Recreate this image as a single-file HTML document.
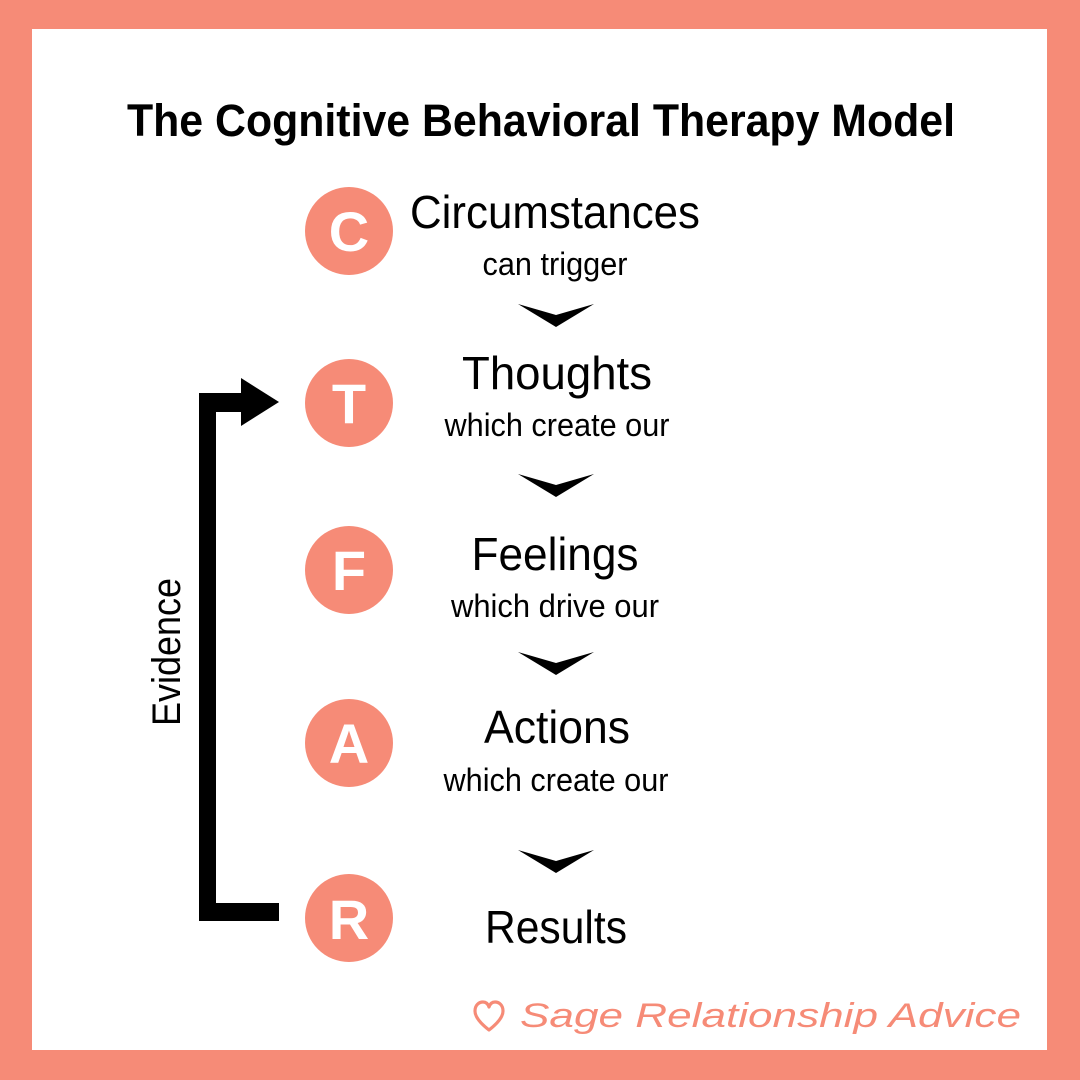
<!DOCTYPE html>
<html>
<head>
<meta charset="utf-8">
<style>
html,body{margin:0;padding:0;background:#fff;}
svg{display:block;}
</style>
</head>
<body>
<svg width="1080" height="1080" viewBox="0 0 1080 1080" xmlns="http://www.w3.org/2000/svg">
  <rect x="0" y="0" width="1080" height="1080" fill="#F68B77"/>
  <rect x="32" y="29" width="1015" height="1021" fill="#ffffff"/>

  <!-- Title -->
  <text x="541" y="136" text-anchor="middle" font-family="Liberation Sans, sans-serif" font-weight="bold" font-size="45" textLength="828" lengthAdjust="spacingAndGlyphs" fill="#000">The Cognitive Behavioral Therapy Model</text>

  <!-- Circles -->
  <g fill="#F68B77">
    <circle cx="349" cy="231" r="44"/>
    <circle cx="349" cy="403" r="44"/>
    <circle cx="349" cy="570" r="44"/>
    <circle cx="349" cy="743" r="44"/>
    <circle cx="349" cy="918" r="44"/>
  </g>
  <g fill="#ffffff" font-family="Liberation Sans, sans-serif" font-weight="bold" font-size="56" text-anchor="middle">
    <text x="349" y="251">C</text>
    <text x="349" y="423">T</text>
    <text x="349" y="590">F</text>
    <text x="349" y="763">A</text>
    <text x="349" y="939">R</text>
  </g>

  <!-- Main labels -->
  <g fill="#000" font-family="Liberation Sans, sans-serif" font-size="46" text-anchor="middle">
    <text x="555" y="228" textLength="290" lengthAdjust="spacingAndGlyphs">Circumstances</text>
    <text x="557" y="389" textLength="190" lengthAdjust="spacingAndGlyphs">Thoughts</text>
    <text x="555" y="570" textLength="167" lengthAdjust="spacingAndGlyphs">Feelings</text>
    <text x="557" y="743" textLength="146" lengthAdjust="spacingAndGlyphs">Actions</text>
    <text x="556" y="943" textLength="142" lengthAdjust="spacingAndGlyphs">Results</text>
  </g>
  <g fill="#000" font-family="Liberation Sans, sans-serif" font-size="32" text-anchor="middle">
    <text x="555" y="275" textLength="145" lengthAdjust="spacingAndGlyphs">can trigger</text>
    <text x="557" y="436" textLength="225" lengthAdjust="spacingAndGlyphs">which create our</text>
    <text x="555" y="617" textLength="208" lengthAdjust="spacingAndGlyphs">which drive our</text>
    <text x="556" y="791" textLength="225" lengthAdjust="spacingAndGlyphs">which create our</text>
  </g>

  <!-- Chevrons -->
  <g fill="#000">
    <polygon points="518,304 556,315 594,304 556,327"/>
    <polygon points="518,474 556,485 594,474 556,497"/>
    <polygon points="518,652 556,663 594,652 556,675"/>
    <polygon points="518,850 556,861 594,850 556,873"/>
  </g>

  <!-- Evidence loop -->
  <g fill="#000">
    <rect x="199" y="393" width="17" height="528"/>
    <rect x="199" y="393" width="44" height="19"/>
    <polygon points="241,378 279,402 241,426"/>
    <rect x="199" y="903" width="80" height="18"/>
  </g>
  <text transform="translate(180,652) rotate(-90)" text-anchor="middle" font-family="Liberation Sans, sans-serif" font-size="40" textLength="148" lengthAdjust="spacingAndGlyphs" fill="#000">Evidence</text>

  <!-- Footer -->
  <path d="M489,1030 C480,1023 475,1017 475,1011 C475,1005 479,1002 483,1002 C486,1002 488,1004 489,1007 C490,1004 492,1002 495,1002 C499,1002 503,1005 503,1011 C503,1017 498,1023 489,1030 Z" fill="none" stroke="#F68B77" stroke-width="3.2" stroke-linejoin="round"/>
  <text x="520" y="1027" font-family="Liberation Sans, sans-serif" font-style="italic" font-size="34" textLength="501" lengthAdjust="spacingAndGlyphs" fill="#F68B77">Sage Relationship Advice</text>
</svg>
</body>
</html>
